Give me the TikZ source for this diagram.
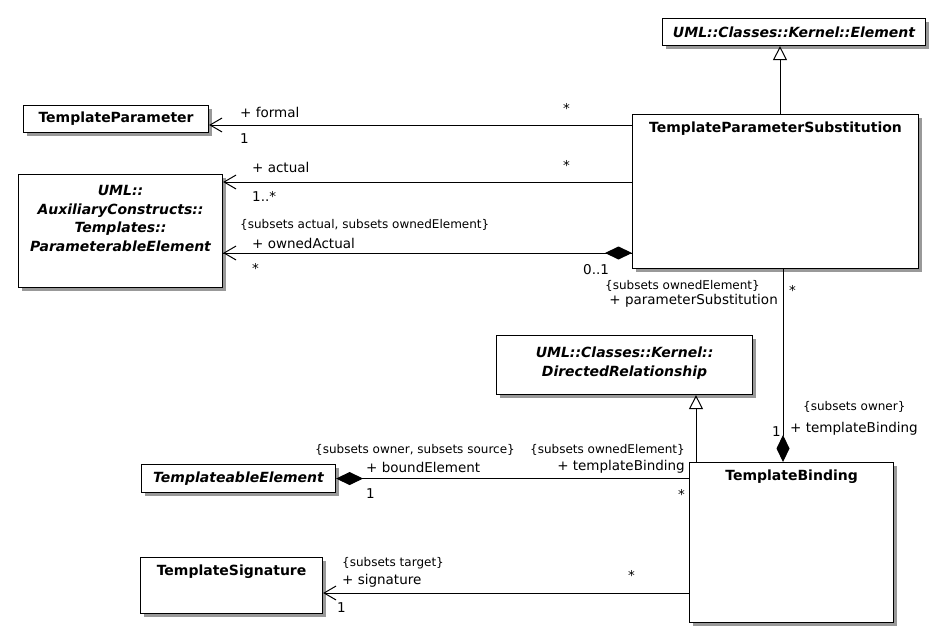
\documentclass[tikz,border=0pt]{standalone}
\usepackage{fontspec}
\setmainfont{DejaVu Sans}
\usetikzlibrary{arrows.meta,shadows}

\begin{document}
\begin{tikzpicture}[x=1pt,y=-1pt]
\tikzset{classe/.style={draw, line width=1.1pt, fill=white, anchor=north west, inner sep=0pt,
    drop shadow={shadow xshift=3pt, shadow yshift=-3pt, fill=black!40, opacity=1}},
  nomclasse/.style={font=\fontsize{14}{18}\selectfont\bfseries, inner sep=0pt},
  nomabstrait/.style={font=\fontsize{14}{18.7}\selectfont\bfseries\itshape, align=center, inner sep=0pt},
  role/.style={font=\fontsize{13.5}{16}\selectfont, inner sep=0pt},
  contrainte/.style={font=\fontsize{12}{14}\selectfont, inner sep=0pt},
  lien/.style={line width=1pt},
  nav/.style={lien, -{Straight Barb[length=12pt, width=14pt, line width=1pt]}},
  gen/.style={lien, -{Triangle[open, length=14pt, width=14pt, line width=1pt, fill=white]}},
  comp/.style={lien, -{Diamond[length=27pt, width=13pt]}}}
\useasboundingbox (0,0) rectangle (941,642);
% classes
\node[classe, nomabstrait, minimum width=263pt, minimum height=27pt] (elem) at (662,18) {UML::Classes::Kernel::Element};
\node[classe, minimum width=286pt, minimum height=154pt,
  label={[nomclasse, anchor=north, yshift=-7.5pt]north:TemplateParameterSubstitution}] (tps) at (632,114) {};
\node[classe, nomclasse, minimum width=185pt, minimum height=27pt] (tparam) at (23,105) {TemplateParameter};
\node[classe, minimum width=204pt, minimum height=113pt,
  label={[nomabstrait, anchor=north, yshift=-11pt]north:UML::\\AuxiliaryConstructs::\\Templates::\\ParameterableElement}] (pelem) at (18,174) {};
\node[classe, minimum width=256pt, minimum height=59pt,
  label={[nomabstrait, anchor=north, yshift=-12pt]north:UML::Classes::Kernel::\\DirectedRelationship}] (drel) at (496,335) {};
\node[classe, minimum width=204pt, minimum height=160pt,
  label={[nomclasse, anchor=north, yshift=-7.5pt]north:TemplateBinding}] (tbind) at (689,462) {};
\node[classe, nomabstrait, minimum width=194pt, minimum height=28pt] (telem) at (141,464) {TemplateableElement};
\node[classe, minimum width=182pt, minimum height=56pt,
  label={[nomclasse, anchor=north, yshift=-7.5pt]north:TemplateSignature}] (tsig) at (140,557) {};
% generalisations
\draw[gen] (tps.north -| 780,0) -- (elem.south -| 780,0);
\draw[gen] (tbind.north -| 696,0) -- (drel.south -| 696,0);
% associations
\draw[nav] (tps.west |- 0,125) -- (tparam.east |- 0,125);
\draw[nav] (tps.west |- 0,182) -- (pelem.east |- 0,182);
\draw[nav] (tps.west |- 0,253) -- (pelem.east |- 0,253);
\draw[comp] (pelem.east |- 0,253) -- (tps.west |- 0,253);
\draw[comp] (tps.south -| 783,0) -- (tbind.north -| 783,0);
\draw[comp] (tbind.west |- telem.east) -- (telem.east);
\draw[nav] (tbind.west |- 0,593) -- (tsig.east |- 0,593);
% extremites
\node[role, anchor=west] (formal) at (240,112) {+ formal};
\node[role, anchor=west] (formalm) at (240,139) {1};
\node[role, anchor=west] (formalt) at (563,108) {*};
\node[role, anchor=west] (actual) at (252,167) {+ actual};
\node[role, anchor=west] (actualm) at (252,196) {1..*};
\node[role, anchor=west] (actualt) at (563,165) {*};
\node[contrainte, anchor=west] (ownedc) at (240,225) {\{subsets actual, subsets ownedElement\}};
\node[role, anchor=west] (owned) at (252,243) {+ ownedActual};
\node[role, anchor=west] (ownedm) at (252,268) {*};
\node[role, anchor=west] (ownedt) at (583,270) {0..1};
\node[contrainte, anchor=east] (substc) at (760,286) {\{subsets ownedElement\}};
\node[role, anchor=east] (subst) at (778,301) {+ parameterSubstitution};
\node[role, anchor=west] (substm) at (789,290) {*};
\node[contrainte, anchor=west] (bindc) at (803,407) {\{subsets owner\}};
\node[role, anchor=west] (bind) at (790,429) {+ templateBinding};
\node[role, anchor=east] (bindm) at (781,432) {1};
\node[contrainte, anchor=west] (boundc) at (315,450) {\{subsets owner, subsets source\}};
\node[role, anchor=west] (bound) at (366,467) {+ boundElement};
\node[role, anchor=west] (boundm) at (366,494) {1};
\node[contrainte, anchor=east] (tbindc) at (685,450) {\{subsets ownedElement\}};
\node[role, anchor=east] (tbindr) at (685,467) {+ templateBinding};
\node[role, anchor=east] (tbindm) at (685,494) {*};
\node[contrainte, anchor=west] (sigc) at (342,563) {\{subsets target\}};
\node[role, anchor=west] (sig) at (342,581) {+ signature};
\node[role, anchor=west] (sigm) at (337,608) {1};
\node[role, anchor=west] (sigt) at (628,575) {*};
\end{tikzpicture}
\end{document}
